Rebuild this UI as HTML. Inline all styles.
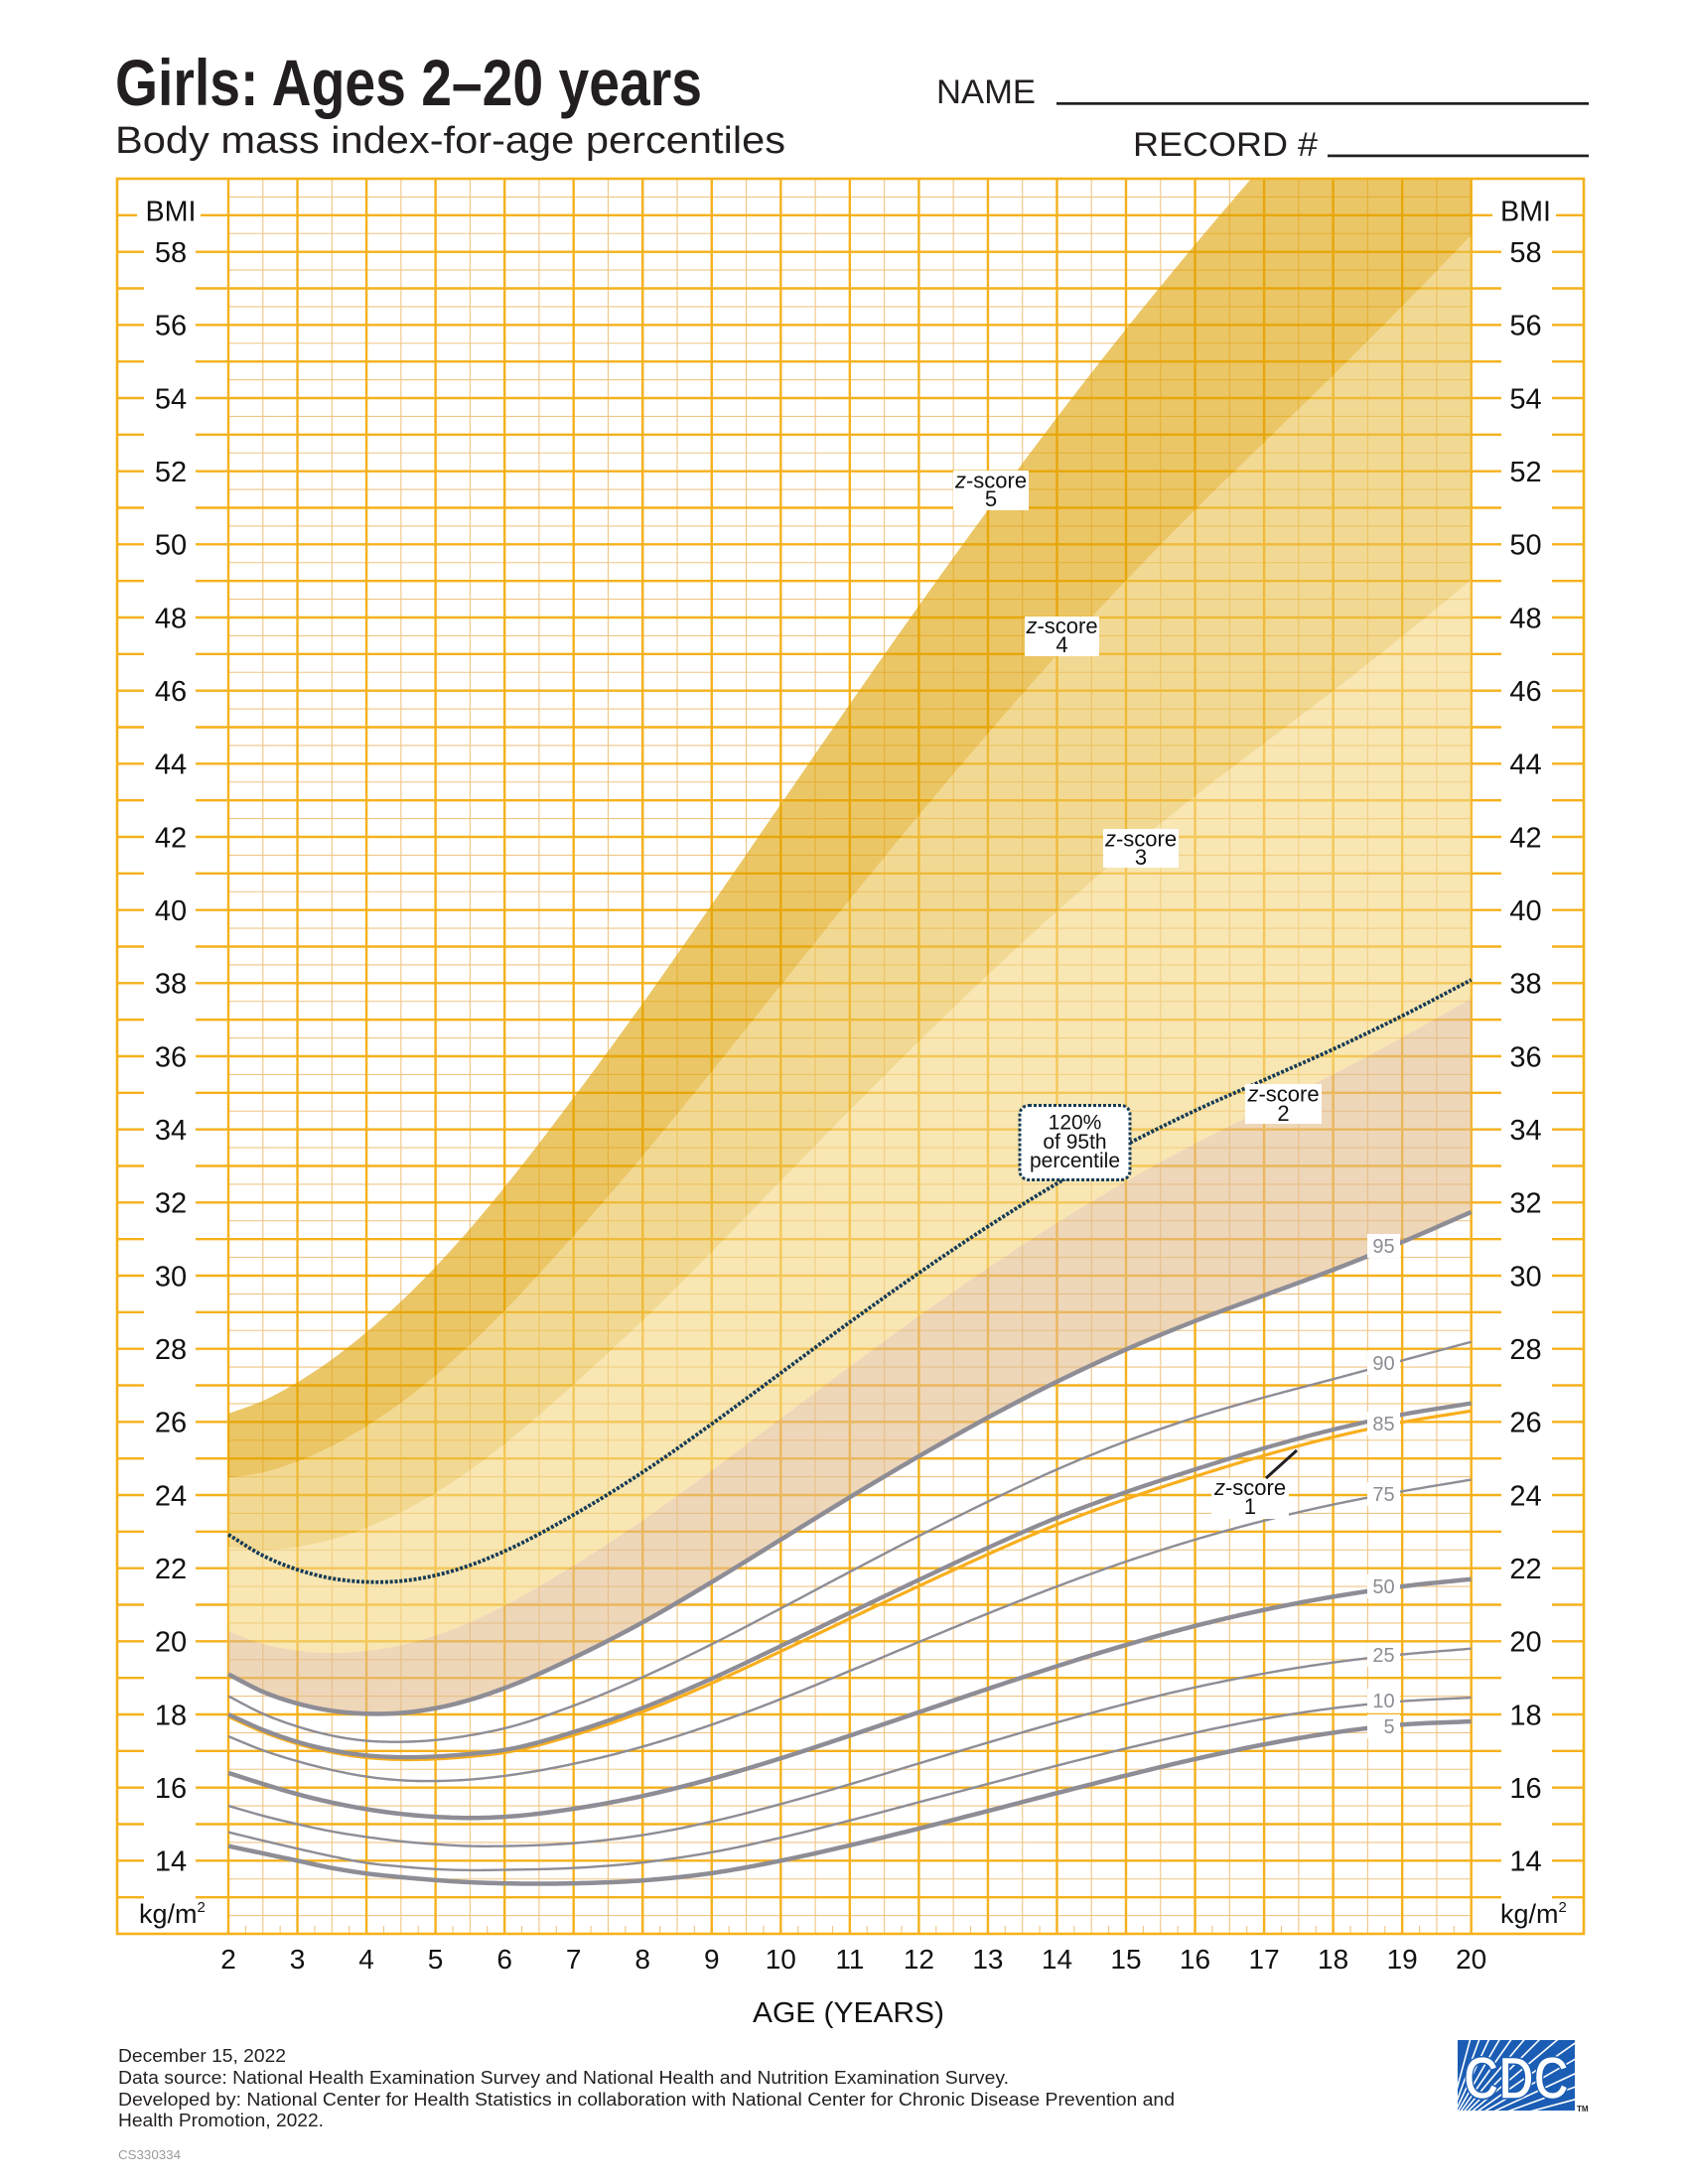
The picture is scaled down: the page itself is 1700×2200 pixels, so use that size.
<!DOCTYPE html>
<html><head><meta charset="utf-8">
<style>
html,body{margin:0;padding:0;background:#fff;}
svg{display:block;}
text{font-family:"Liberation Sans",Arial,sans-serif;}
</style></head>
<body>
<svg id="s" xmlns="http://www.w3.org/2000/svg" width="1700" height="2200" viewBox="0 0 1700 2200">
<defs>
<clipPath id="pc"><rect x="230" y="180" width="1251.7" height="1768"/></clipPath>
<clipPath id="cdcclip"><rect x="1468" y="2055" width="118" height="71"/></clipPath>
</defs>
<rect width="1700" height="2200" fill="#fff"/>

<!-- Header -->
<text x="116" y="106" font-size="66" font-weight="bold" fill="#231f20" textLength="591" lengthAdjust="spacingAndGlyphs">Girls: Ages 2–20 years</text>
<text x="116" y="154" font-size="38" fill="#231f20" textLength="675" lengthAdjust="spacingAndGlyphs">Body mass index-for-age percentiles</text>
<text x="943" y="104" font-size="34" fill="#231f20" textLength="100" lengthAdjust="spacingAndGlyphs">NAME</text>
<rect x="1064" y="103" width="536" height="2.7" fill="#231f20"/>
<text x="1141" y="157" font-size="34" fill="#231f20" textLength="186" lengthAdjust="spacingAndGlyphs">RECORD #</text>
<rect x="1337" y="155.6" width="263" height="2.7" fill="#231f20"/>

<g id="grid"></g>
<g id="bands" clip-path="url(#pc)"></g>
<g id="frame"></g>
<g id="curves"></g>

<!-- Y axis labels left -->
<g font-size="29" fill="#111" text-anchor="middle">
<text x="172" y="222.5" textLength="51" lengthAdjust="spacingAndGlyphs">BMI</text>
<text x="172" y="264.1">58</text>
<text x="172" y="337.7">56</text>
<text x="172" y="411.4">54</text>
<text x="172" y="485.1">52</text>
<text x="172" y="558.7">50</text>
<text x="172" y="632.4">48</text>
<text x="172" y="706.1">46</text>
<text x="172" y="779.7">44</text>
<text x="172" y="853.4">42</text>
<text x="172" y="927.1">40</text>
<text x="172" y="1000.7">38</text>
<text x="172" y="1074.4">36</text>
<text x="172" y="1148.1">34</text>
<text x="172" y="1221.7">32</text>
<text x="172" y="1295.4">30</text>
<text x="172" y="1369.1">28</text>
<text x="172" y="1442.7">26</text>
<text x="172" y="1516.4">24</text>
<text x="172" y="1590.1">22</text>
<text x="172" y="1663.7">20</text>
<text x="172" y="1737.4">18</text>
<text x="172" y="1811.1">16</text>
<text x="172" y="1884.7">14</text>
</g>
<!-- Y axis labels right -->
<g font-size="29" fill="#111" text-anchor="middle">
<text x="1536.5" y="222.5" textLength="51" lengthAdjust="spacingAndGlyphs">BMI</text>
<text x="1536.5" y="264.1">58</text>
<text x="1536.5" y="337.7">56</text>
<text x="1536.5" y="411.4">54</text>
<text x="1536.5" y="485.1">52</text>
<text x="1536.5" y="558.7">50</text>
<text x="1536.5" y="632.4">48</text>
<text x="1536.5" y="706.1">46</text>
<text x="1536.5" y="779.7">44</text>
<text x="1536.5" y="853.4">42</text>
<text x="1536.5" y="927.1">40</text>
<text x="1536.5" y="1000.7">38</text>
<text x="1536.5" y="1074.4">36</text>
<text x="1536.5" y="1148.1">34</text>
<text x="1536.5" y="1221.7">32</text>
<text x="1536.5" y="1295.4">30</text>
<text x="1536.5" y="1369.1">28</text>
<text x="1536.5" y="1442.7">26</text>
<text x="1536.5" y="1516.4">24</text>
<text x="1536.5" y="1590.1">22</text>
<text x="1536.5" y="1663.7">20</text>
<text x="1536.5" y="1737.4">18</text>
<text x="1536.5" y="1811.1">16</text>
<text x="1536.5" y="1884.7">14</text>
</g>
<text x="140" y="1937" font-size="27" fill="#111">kg/m<tspan font-size="15" dy="-11">2</tspan></text>
<text x="1511" y="1937" font-size="27" fill="#111">kg/m<tspan font-size="15" dy="-11">2</tspan></text>

<!-- X axis labels -->
<g font-size="28" fill="#111" text-anchor="middle">
<text x="230" y="1983">2</text>
<text x="299.5" y="1983">3</text>
<text x="369.1" y="1983">4</text>
<text x="438.6" y="1983">5</text>
<text x="508.2" y="1983">6</text>
<text x="577.7" y="1983">7</text>
<text x="647.2" y="1983">8</text>
<text x="716.8" y="1983">9</text>
<text x="786.3" y="1983">10</text>
<text x="855.9" y="1983">11</text>
<text x="925.4" y="1983">12</text>
<text x="994.9" y="1983">13</text>
<text x="1064.5" y="1983">14</text>
<text x="1134" y="1983">15</text>
<text x="1203.5" y="1983">16</text>
<text x="1273.1" y="1983">17</text>
<text x="1342.6" y="1983">18</text>
<text x="1412.2" y="1983">19</text>
<text x="1481.7" y="1983">20</text>
</g>
<text x="758" y="2037" font-size="29" fill="#111" textLength="193" lengthAdjust="spacingAndGlyphs">AGE (YEARS)</text>

<!-- Percentile labels -->
<g fill="#fff">
<rect x="1377" y="1243" width="33" height="24"/>
<rect x="1377" y="1361" width="33" height="24"/>
<rect x="1377" y="1422" width="33" height="24"/>
<rect x="1377" y="1493" width="33" height="24"/>
<rect x="1377" y="1586" width="33" height="24"/>
<rect x="1377" y="1655" width="33" height="24"/>
<rect x="1377" y="1701" width="33" height="24"/>
<rect x="1377" y="1727" width="33" height="24"/>
</g>
<g font-size="20" fill="#8d8c94" text-anchor="middle">
<text x="1393.5" y="1262">95</text>
<text x="1393.5" y="1380">90</text>
<text x="1393.5" y="1441">85</text>
<text x="1393.5" y="1512">75</text>
<text x="1393.5" y="1605">50</text>
<text x="1393.5" y="1674">25</text>
<text x="1393.5" y="1720">10</text>
<text x="1399" y="1746">5</text>
</g>

<!-- z-score labels -->
<g fill="#fff">
<rect x="960" y="474" width="76" height="40"/>
<rect x="1032" y="621" width="75" height="40"/>
<rect x="1111" y="835" width="76" height="39"/>
<rect x="1254" y="1092" width="77" height="40"/>
<rect x="1220" y="1489" width="78" height="41"/>
</g>
<line x1="1275" y1="1489" x2="1306" y2="1461" stroke="#231f20" stroke-width="3"/>
<g font-size="22" fill="#111" text-anchor="middle">
<text x="998" y="491.5"><tspan font-style="italic">z</tspan>-score</text>
<text x="998" y="510">5</text>
<text x="1069.5" y="638"><tspan font-style="italic">z</tspan>-score</text>
<text x="1069.5" y="657">4</text>
<text x="1149" y="852.5"><tspan font-style="italic">z</tspan>-score</text>
<text x="1149" y="871">3</text>
<text x="1292.5" y="1109.5"><tspan font-style="italic">z</tspan>-score</text>
<text x="1292.5" y="1129">2</text>
<text x="1259" y="1506"><tspan font-style="italic">z</tspan>-score</text>
<text x="1259" y="1525">1</text>
</g>

<!-- 120% label -->
<rect x="1027" y="1113.5" width="111" height="75" rx="9" ry="9" fill="#fff" stroke="#173c56" stroke-width="3" stroke-dasharray="3 2"/>
<g font-size="21" fill="#111" text-anchor="middle">
<text x="1082.5" y="1137.5">120%</text>
<text x="1082.5" y="1157">of 95th</text>
<text x="1082.5" y="1176">percentile</text>
</g>

<!-- Footer -->
<g fill="#231f20" font-size="18">
<text x="119" y="2077" textLength="169" lengthAdjust="spacingAndGlyphs">December 15, 2022</text>
<text x="119" y="2099" textLength="897" lengthAdjust="spacingAndGlyphs">Data source: National Health Examination Survey and National Health and Nutrition Examination Survey.</text>
<text x="119" y="2121" textLength="1064" lengthAdjust="spacingAndGlyphs">Developed by: National Center for Health Statistics in collaboration with National Center for Chronic Disease Prevention and</text>
<text x="119" y="2142" textLength="207" lengthAdjust="spacingAndGlyphs">Health Promotion, 2022.</text>
</g>
<text x="119" y="2175" font-size="13" fill="#9a9a9a" textLength="63" lengthAdjust="spacingAndGlyphs">CS330334</text>

<!-- CDC logo -->
<rect x="1468" y="2055" width="118" height="71" fill="#1b5db4"/>
<g clip-path="url(#cdcclip)" stroke="#fff" stroke-width="1.6">
<line x1="1455" y1="2150" x2="1648.2" y2="2098.2"/>
<line x1="1455" y1="2150" x2="1642.9" y2="2081.6"/>
<line x1="1455" y1="2150" x2="1636.3" y2="2065.5"/>
<line x1="1455" y1="2150" x2="1628.2" y2="2050"/>
<line x1="1455" y1="2150" x2="1618.8" y2="2035.3"/>
<line x1="1455" y1="2150" x2="1608.2" y2="2021.4"/>
<line x1="1455" y1="2150" x2="1596.4" y2="2008.6"/>
<line x1="1455" y1="2150" x2="1583.6" y2="1996.8"/>
<line x1="1455" y1="2150" x2="1569.7" y2="1986.2"/>
<line x1="1455" y1="2150" x2="1555" y2="1976.8"/>
<line x1="1455" y1="2150" x2="1539.5" y2="1968.7"/>
<line x1="1455" y1="2150" x2="1523.4" y2="1962.1"/>
<line x1="1455" y1="2150" x2="1506.8" y2="1956.8"/>
</g>
<text x="1527" y="2114" font-family="'Liberation Serif',serif" font-weight="bold" font-size="60" fill="#fff" stroke="#1b5db4" stroke-width="1.5" text-anchor="middle" textLength="106" lengthAdjust="spacingAndGlyphs">CDC</text>
<text x="1588" y="2127" font-size="8" font-weight="bold" fill="#231f20">TM</text>
</svg>

<script>
(function(){
var NS="http://www.w3.org/2000/svg";
function X(a){return 230+(a-2)*69.539;}
function Y(b){return 180+(60-b)*36.8333;}
function el(p,t,at){var e=document.createElementNS(NS,t);for(var k in at)e.setAttribute(k,at[k]);p.appendChild(e);return e;}
var TH="#f5b11c", TN="#efc584";

/* Grid */
var G=document.getElementById('grid');
var d1="",d2="",k,x,y;
for(k=0;k<=36;k++){x=X(2+k*0.5).toFixed(2);var s="M"+x+" 180V1948";if(k%2)d1+=s;else d2+=s;}
for(k=1;k<96;k++){y=Y(12+k*0.5).toFixed(2);var s2="M230 "+y+"H1481.7";if(k%2)d1+=s2;else d2+=s2;}
for(k=0;k<36;k++){x=X(2.25+k*0.5).toFixed(2);d1+="M"+x+" 1940V1948";}
el(G,'path',{d:d1,stroke:TN,'stroke-width':1.1,fill:'none'});
el(G,'path',{d:d2,stroke:TH,'stroke-width':2.4,fill:'none'});

/* Frame + label column ticks */
var F=document.getElementById('frame');
var d3="";
for(var b=13;b<=59;b++){
  y=Y(b).toFixed(2);
  if(b===59){d3+="M118 "+y+"H138M202 "+y+"H230M1481.7 "+y+"H1503M1567 "+y+"H1595";}
  else{d3+="M118 "+y+"H145M197 "+y+"H230M1481.7 "+y+"H1512M1563 "+y+"H1595";}
}
el(F,'path',{d:d3,stroke:TH,'stroke-width':2.4,fill:'none'});
el(F,'rect',{x:118,y:180,width:1477,height:1768,fill:'none',stroke:TH,'stroke-width':2.6});

/* Data */
var ages=[2,2.5,3,3.5,4,4.5,5,5.5,6,7,8,9,10,11,12,13,14,15,16,17,18,19,20];
var P={
p5:[14.4,14.2,14.0,13.8,13.65,13.55,13.47,13.41,13.38,13.38,13.46,13.66,14.0,14.42,14.88,15.36,15.85,16.33,16.78,17.18,17.5,17.72,17.81],
p10:[14.78,14.55,14.33,14.12,13.94,13.84,13.77,13.74,13.75,13.8,13.95,14.23,14.63,15.1,15.6,16.1,16.6,17.07,17.5,17.88,18.17,18.36,18.46],
p25:[15.5,15.23,15.0,14.8,14.65,14.53,14.45,14.4,14.4,14.48,14.7,15.07,15.55,16.09,16.66,17.23,17.78,18.29,18.74,19.12,19.42,19.64,19.8],
p50:[16.4,16.1,15.82,15.59,15.41,15.28,15.2,15.17,15.2,15.42,15.77,16.24,16.8,17.42,18.06,18.7,19.32,19.9,20.42,20.86,21.22,21.5,21.7],
p75:[17.4,17.02,16.72,16.48,16.3,16.2,16.18,16.22,16.32,16.65,17.12,17.72,18.42,19.19,19.98,20.76,21.5,22.18,22.78,23.3,23.74,24.1,24.42],
p85:[18.0,17.58,17.25,17.02,16.88,16.83,16.85,16.92,17.03,17.52,18.18,18.98,19.87,20.78,21.68,22.56,23.38,24.08,24.7,25.28,25.79,26.2,26.51],
p90:[18.5,18.02,17.67,17.42,17.28,17.25,17.3,17.43,17.62,18.24,19.02,19.92,20.9,21.9,22.88,23.82,24.7,25.47,26.12,26.67,27.17,27.68,28.19],
p95:[19.1,18.62,18.3,18.1,18.02,18.04,18.17,18.4,18.72,19.55,20.52,21.62,22.78,23.94,25.06,26.12,27.1,27.98,28.76,29.46,30.16,30.92,31.74]
};
function spline(v){
  var n=ages.length,h=[],d=[],m=[],i;
  for(i=0;i<n-1;i++){h[i]=ages[i+1]-ages[i];d[i]=(v[i+1]-v[i])/h[i];}
  m[0]=d[0];m[n-1]=d[n-2];
  for(i=1;i<n-1;i++)m[i]=(h[i-1]*d[i]+h[i]*d[i-1])/(h[i-1]+h[i]);
  return function(a){
    var j=0;while(j<n-2&&a>ages[j+1])j++;
    var t=(a-ages[j])/h[j],t2=t*t,t3=t2*t;
    return (2*t3-3*t2+1)*v[j]+(t3-2*t2+t)*h[j]*m[j]+(-2*t3+3*t2)*v[j+1]+(t3-t2)*h[j]*m[j+1];
  };
}
var S=[];for(k=0;k<=360;k++)S.push(2+k*0.05);
var Fn={};for(var key in P)Fn[key]=spline(P[key]);
function sig(a){return 0.8334+0.3712*a-0.0011*a*a;}
function zf(c){return function(a){return Fn.p95(a)+c*sig(a);};}
var z2=zf(0.7471),z3=zf(2.2115),z4=zf(3.417),z5=zf(4.535);
function z1(a){var p85=Fn.p85(a),p75=Fn.p75(a);return p85-0.1*(p85-p75);}
function r120(a){return 1.2*Fn.p95(a);}
function pts(f){var r=[];for(var i=0;i<S.length;i++)r.push(X(S[i]).toFixed(2)+","+Y(f(S[i])).toFixed(2));return r;}
function line(f){return "M"+pts(f).join("L");}
function band(lo,hi){var u=pts(hi),l=pts(lo).reverse();return "M"+u.join("L")+"L"+l.join("L")+"Z";}

/* Bands */
var B=document.getElementById('bands');
el(B,'path',{d:band(Fn.p95,z2),fill:'#e3bb89','fill-opacity':0.6});
el(B,'path',{d:band(z2,z3),fill:'#f3d580','fill-opacity':0.6});
el(B,'path',{d:band(z3,z4),fill:'#e9c04b','fill-opacity':0.6});
el(B,'path',{d:band(z4,z5),fill:'#dea000','fill-opacity':0.6});

/* Curves */
var C=document.getElementById('curves');
var GR="#8e8d96";
function cv(f,w,col){el(C,'path',{d:line(f),fill:'none',stroke:col,'stroke-width':w,'stroke-linejoin':'round'});}
cv(Fn.p10,2.4,GR);cv(Fn.p25,2.4,GR);cv(Fn.p75,2.4,GR);cv(Fn.p90,2.4,GR);
cv(z1,3.2,"#f8ae1c");
cv(Fn.p5,4.5,GR);cv(Fn.p50,4.5,GR);cv(Fn.p85,4.3,GR);cv(Fn.p95,4.5,GR);
el(C,'path',{d:line(r120),fill:'none',stroke:'#163b55','stroke-width':3.8,'stroke-dasharray':'3 1.8'});
})();
</script>
</body></html>
